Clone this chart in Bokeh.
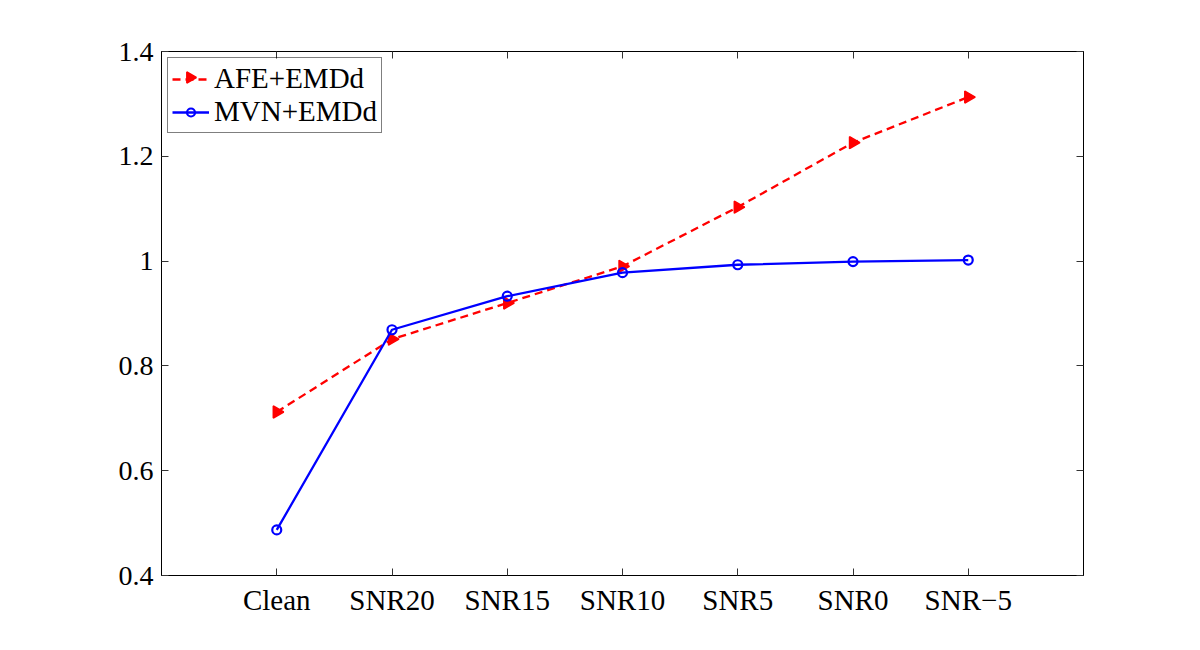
import math
from bokeh.plotting import figure
from bokeh.models import Range1d, FixedTicker, LinearAxis, CustomJSTickFormatter, Legend
from bokeh.embed import file_html
from bokeh.resources import INLINE

categories = ["Clean", "SNR20", "SNR15", "SNR10", "SNR5", "SNR0", "SNR\u22125"]
afe_emdd = [0.712, 0.851, 0.920, 0.990, 1.103, 1.226, 1.313]
mvn_emdd = [0.487, 0.869, 0.933, 0.978, 0.993, 0.999, 1.002]
y_ticks = [0.4, 0.6, 0.8, 1.0, 1.2, 1.4]

x = [i + 1 for i in range(len(categories))]
FONT = "Liberation Serif"

W, H = 1184, 634
BL, BR, BT, BB = 161, 101, 51, 59
FRAME_W = W - BL - BR
FRAME_H = H - BT - BB
X0, X1 = 0, len(categories) + 1
Y0, Y1 = y_ticks[0], y_ticks[-1]

p = figure(width=W, height=H, output_backend="svg", toolbar_location=None,
           x_range=Range1d(X0, X1), y_range=Range1d(Y0, Y1),
           min_border_left=BL, min_border_right=BR, min_border_top=BT, min_border_bottom=BB,
           x_axis_type=None, y_axis_type=None)
p.xgrid.visible = False
p.ygrid.visible = False
p.outline_line_color = "black"
p.outline_line_width = 1
p.background_fill_color = "white"
p.border_fill_color = "white"

overrides = {xi: c for xi, c in zip(x, categories)}

def make_axis(kind, loc, labels, fs="29px"):
    ax = LinearAxis()
    if kind == "x":
        ax.ticker = FixedTicker(ticks=x)
        if labels:
            ax.major_label_overrides = overrides
    else:
        ax.ticker = FixedTicker(ticks=y_ticks)
    if labels:
        if kind == "y":
            ax.formatter = CustomJSTickFormatter(code="return tick.toFixed(1).replace(/\\.0$/, '');")
        ax.major_label_text_font_size = fs
        ax.major_label_standoff = 8
    else:
        ax.formatter = CustomJSTickFormatter(code="return '';")
        ax.major_label_text_font_size = fs
        ax.major_label_standoff = 0
    ax.major_tick_in = 7
    ax.major_tick_out = 0
    ax.minor_tick_line_color = None
    ax.major_tick_line_color = "#333333"
    ax.axis_line_color = "black"
    ax.major_label_text_font = FONT
    ax.major_label_text_color = "black"
    p.add_layout(ax, loc)

make_axis("x", "below", True, "29px")
make_axis("y", "left", True, "28px")
make_axis("x", "above", False)
make_axis("y", "right", False)

r1 = p.line(x, afe_emdd, line_color="#ff0000", line_width=2.3, line_dash="8 5")
m1 = p.scatter(x, afe_emdd, marker="triangle", angle=-math.pi / 2, size=12,
               line_color="#ff0000", fill_color="#ff0000", line_width=1.5)
r2 = p.line(x, mvn_emdd, line_color="#0000ff", line_width=2.3)
m2 = p.scatter(x, mvn_emdd, marker="circle", size=9, line_color="#0000ff",
               fill_color=None, line_width=2.2)

LEG_MARGIN, LEG_PAD, GLYPH_W, ROW_H = 6, 4, 37, 32

legend = Legend(items=[("AFE+EMDd", [r1]), ("MVN+EMDd", [r2, m2])],
                location="top_left")
legend.label_text_font = FONT
legend.label_text_font_size = "29px"
legend.label_text_color = "black"
legend.border_line_color = "black"
legend.border_line_width = 1
legend.margin = LEG_MARGIN
legend.padding = LEG_PAD
legend.spacing = 0
legend.glyph_width = GLYPH_W
legend.glyph_height = 20
legend.label_height = ROW_H
legend.label_standoff = 5
legend.background_fill_alpha = 0
p.add_layout(legend, "center")

# right-pointing triangle in the legend (legend glyphs ignore marker angle)
px_off = LEG_MARGIN + LEG_PAD + GLYPH_W / 2
py_off = LEG_MARGIN + LEG_PAD + ROW_H / 2
p.scatter([X0 + px_off / FRAME_W * (X1 - X0)], [Y1 - py_off / FRAME_H * (Y1 - Y0)],
          marker="triangle", angle=-math.pi / 2, size=11,
          line_color="#ff0000", fill_color="#ff0000", line_width=1.5)

open("out.html", "w").write(file_html(p, INLINE))
